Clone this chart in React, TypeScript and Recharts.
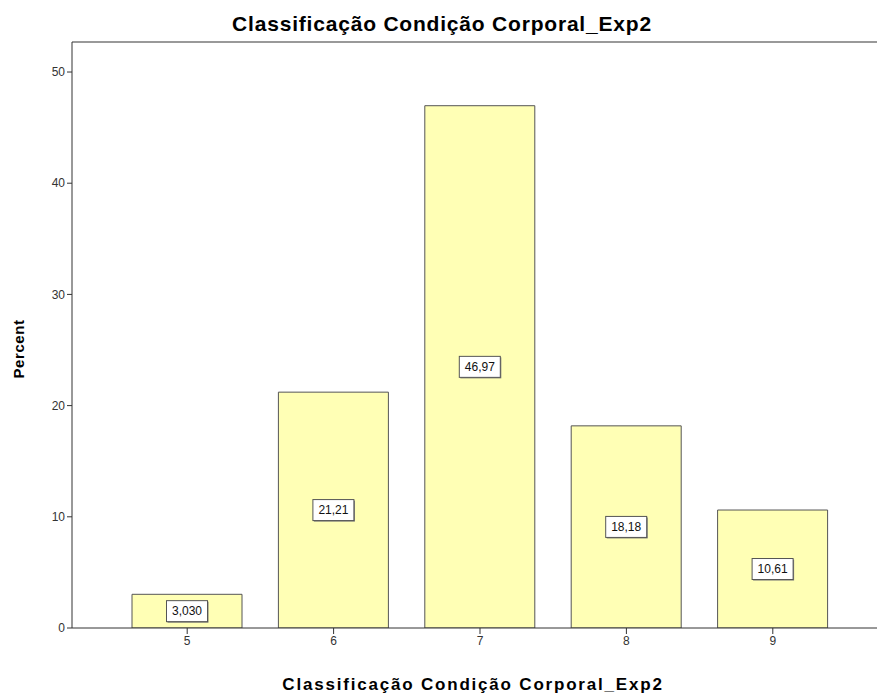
import React from 'react';
import { BarChart, Bar, XAxis, YAxis, ReferenceLine, Customized, LabelList } from 'recharts';

const categories = ['5', '6', '7', '8', '9'];
const percents = [3.03, 21.21, 46.97, 18.18, 10.61];
const valueLabels = ['3,030', '21,21', '46,97', '18,18', '10,61'];
const yTicks = [0, 10, 20, 30, 40, 50];

const data = categories.map((c, i) => ({ cat: c, pct: percents[i], lbl: valueLabels[i] }));

const FONT = '"Liberation Sans", Arial, sans-serif';

// boxed value label centred inside each bar
const BoxLabel = (props: any) => {
  const { x, y, width, height, value } = props;
  const cx = x + width / 2;
  const cy = y + height / 2;
  const w = value.length * 7 + 6;
  const h = 21;
  return (
    <g>
      <rect x={cx - w / 2 + 1} y={cy - h / 2 + 1} width={w} height={h} fill="#777" />
      <rect x={cx - w / 2} y={cy - h / 2} width={w} height={h} fill="#fff" stroke="#555" strokeWidth={1} />
      <text x={cx} y={cy + 4} textAnchor="middle" fontSize={12} fontFamily={FONT} fill="#111">{value}</text>
    </g>
  );
};

const Titles = () => (
  <g fontFamily={FONT} fontWeight="bold" fill="#000">
    <text x={442} y={31} textAnchor="middle" fontSize={21} letterSpacing={0.8}>Classificação Condição Corporal_Exp2</text>
    <text x={473} y={690} textAnchor="middle" fontSize={17} letterSpacing={1.8}>Classificação Condição Corporal_Exp2</text>
    <text x={24} y={349} textAnchor="middle" fontSize={15} letterSpacing={0.6} transform="rotate(-90 24 349)">Percent</text>
  </g>
);

export default function App() {
  return (
    <div style={{ width: 877, height: 695, background: '#fff' }}>
      <style>{'body{margin:0}'}</style>
      <BarChart
        width={877}
        height={695}
        data={data}
        margin={{ top: 42, right: 0, left: 0, bottom: 37 }}
        barCategoryGap={0}
      >
        <XAxis
          dataKey="cat"
          height={30}
          padding={{ left: 42, right: 31 }}
          stroke="#333"
          tickSize={6}
          tick={{ fontSize: 12, fontFamily: FONT, fill: '#333' }}
        />
        <YAxis
          width={72}
          domain={[0, 52.7]}
          ticks={yTicks}
          allowDataOverflow
          stroke="#333"
          tickSize={5}
          tick={{ fontSize: 12, fontFamily: FONT, fill: '#333' }}
        />
        <ReferenceLine y={52.7} stroke="#999" strokeWidth={2} />
        <Bar dataKey="pct" barSize={110} fill="#FFFFB5" stroke="#555" strokeWidth={1} isAnimationActive={false}>
          <LabelList dataKey="lbl" content={BoxLabel} />
        </Bar>
        <Customized component={Titles} />
      </BarChart>
    </div>
  );
}
